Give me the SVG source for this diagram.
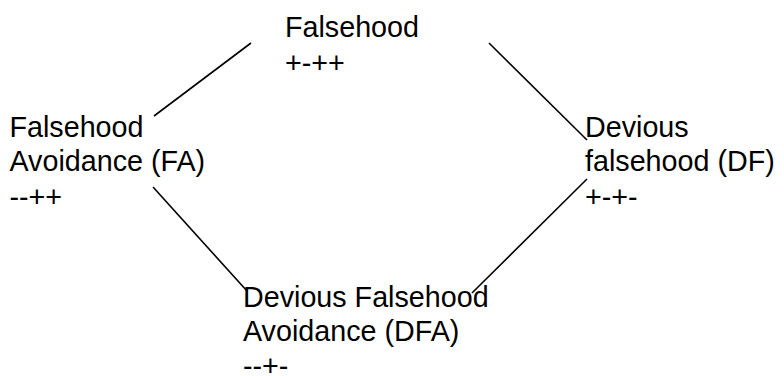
<svg xmlns="http://www.w3.org/2000/svg" width="784" height="376" viewBox="0 0 784 376">
  <style>
    .lbl { font-family: "Liberation Sans", Arial, Helvetica, sans-serif; font-size: 28.7px; fill: #000; }
    .edge { stroke: #000; stroke-width: 1.6; fill: none; }
  </style>
  <rect width="784" height="376" fill="#fff"/>

  <g id="connectors">
    <line class="edge" x1="251" y1="43" x2="154" y2="116"/>
    <line class="edge" x1="489" y1="43" x2="587" y2="140"/>
    <line class="edge" x1="153" y1="187" x2="247" y2="291"/>
    <line class="edge" x1="587" y1="179" x2="472" y2="293"/>
  </g>

  <g id="falsehood">
    <text class="lbl" x="285" y="37">Falsehood</text>
    <text class="lbl" x="285" y="73">+-++</text>
  </g>

  <g id="fa">
    <text class="lbl" x="9.5" y="137">Falsehood</text>
    <text class="lbl" x="9.5" y="170.5">Avoidance (FA)</text>
    <text class="lbl" x="9.5" y="207">--++</text>
  </g>

  <g id="df">
    <text class="lbl" x="585" y="137">Devious</text>
    <text class="lbl" x="585" y="170.5">falsehood (DF)</text>
    <text class="lbl" x="585" y="207">+-+-</text>
  </g>

  <g id="dfa">
    <text class="lbl" x="243" y="307">Devious Falsehood</text>
    <text class="lbl" x="243" y="341">Avoidance (DFA)</text>
    <text class="lbl" x="243" y="376">--+-</text>
  </g>
</svg>
